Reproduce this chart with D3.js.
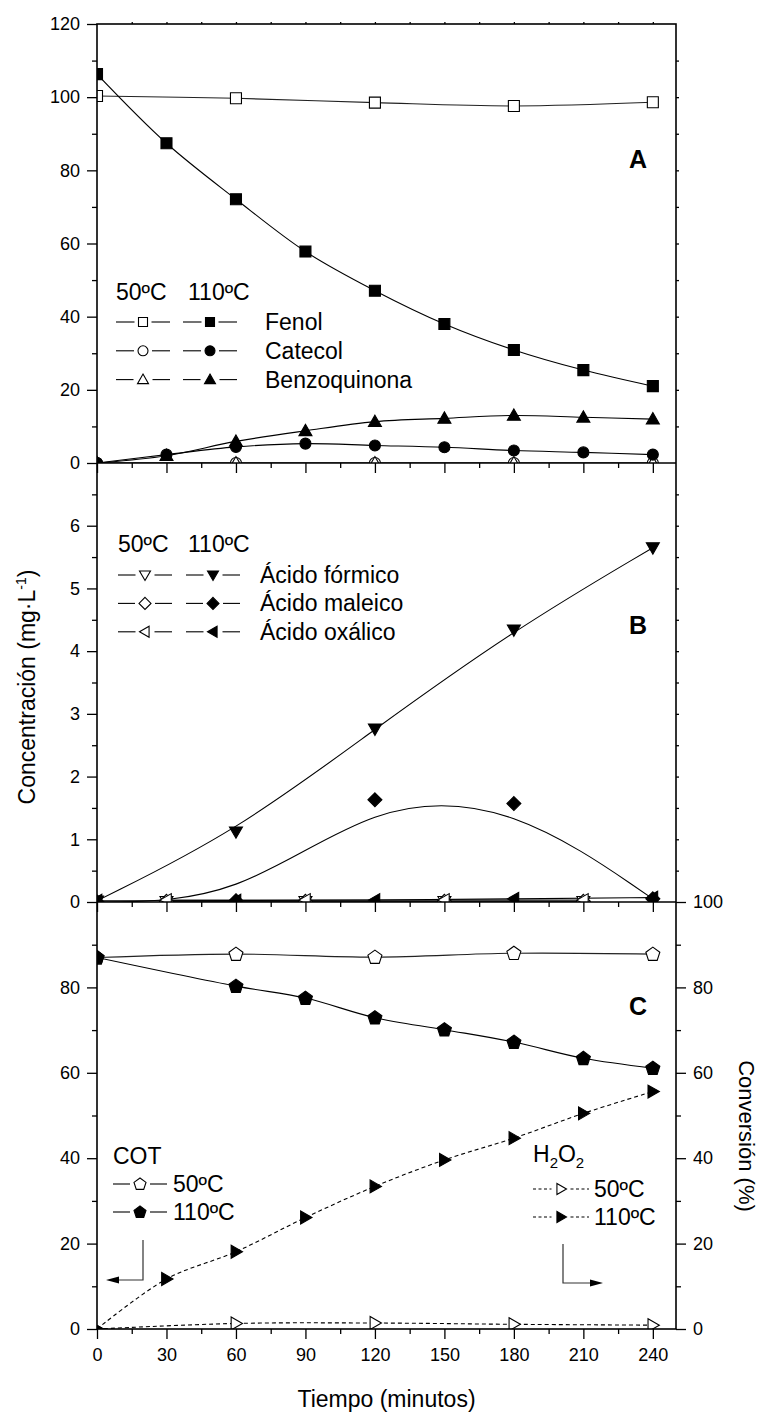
<!DOCTYPE html>
<html><head><meta charset="utf-8">
<script src="https://cdn.jsdelivr.net/npm/d3@7/dist/d3.min.js"></script>
<style>body{margin:0;background:#fff}svg{display:block}</style>
</head><body><svg id="c" width="761" height="1416"></svg>
<script>
// ---------- DATA ----------
const times = [0, 30, 60, 90, 120, 150, 180, 210, 240];
const times50 = [0, 60, 120, 180, 240];
const fenol50 = [100.3, 99.7, 98.5, 97.6, 98.6];
const fenol110 = [106.3, 87.4, 72.1, 57.8, 47.1, 38.0, 30.9, 25.4, 21.0];
const catecol50 = [0, 0, 0, 0, 0];
const catecol110 = [0, 2.3, 4.4, 5.3, 4.8, 4.3, 3.4, 2.9, 2.3];
const benzo50 = [0, 0, 0, 0, 0];
const benzo110 = [0, 2.0, 5.9, 8.8, 11.3, 12.2, 13.0, 12.5, 12.0];

const timesAcid110 = [0, 60, 120, 180, 240];
const timesAcid50 = [30, 90, 150, 210];
const formico110 = [0.02, 1.12, 2.76, 4.34, 5.65];
const maleico110 = [0, 0.02, 1.63, 1.57, 0.05];
const oxalico110 = [0.02, 0.02, 0.03, 0.05, 0.07];
const formico50 = [0.01, 0.01, 0.01, 0.01];
const maleico50 = [0.01, 0.01, 0.01, 0.01];
const oxalico50 = [0.03, 0.03, 0.03, 0.03];

const timesCOT110 = [0, 60, 90, 120, 150, 180, 210, 240];
const cot50 = [87.0, 87.8, 87.1, 88.0, 87.8];
const cot110 = [87.0, 80.3, 77.5, 72.9, 70.1, 67.2, 63.4, 61.1];
const h2o2_50 = [0, 1.3, 1.4, 1.1, 0.9];
const h2o2_110 = [0, 11.7, 18.1, 26.1, 33.4, 39.6, 44.7, 50.5, 55.6];

const xTicks = [0, 30, 60, 90, 120, 150, 180, 210, 240];
const xMinor = [15, 45, 75, 105, 135, 165, 195, 225];
const xTop = [15, 30, 45, 60, 75, 90, 105, 120, 135, 150, 165, 180, 195, 210, 225, 240];
const yTicksA = [0, 20, 40, 60, 80, 100, 120];
const yMinorA = [10, 30, 50, 70, 90, 110];
const yRightA = [10, 20, 30, 40, 50, 60, 70, 80, 90, 100, 110];
const yTicksB = [0, 1, 2, 3, 4, 5, 6];
const yMinorB = [0.5, 1.5, 2.5, 3.5, 4.5, 5.5, 6.5];
const yRightB = [0.5, 1, 1.5, 2, 2.5, 3, 3.5, 4, 4.5, 5, 5.5, 6, 6.5];
const yTicksC = [0, 20, 40, 60, 80];
const yMinorC = [10, 30, 50, 70, 90];
const yTicksCR = [0, 20, 40, 60, 80, 100];

// ---------- LAYOUT ----------
const FONT = "Arial, 'Liberation Sans', sans-serif";
const svg = d3.select("#c");
const L = 97, R = 676, TOP = 24, AB = 463, BC = 902, BOT = 1329;
const x = d3.scaleLinear().domain([0, 250]).range([L, R]);
const yA = d3.scaleLinear().domain([0, 120]).range([AB, TOP]);
const yB = d3.scaleLinear().domain([0, 7]).range([BC, AB]);
const yC = d3.scaleLinear().domain([0, 100]).range([BOT, BC]);

const defs = svg.append("defs");
function clip(id, y0, y1) {
  defs.append("clipPath").attr("id", id).append("rect")
    .attr("x", L).attr("y", y0).attr("width", R - L).attr("height", y1 - y0);
}
clip("cA", TOP, AB); clip("cB", AB, BC); clip("cC", BC, BOT);

// ---------- MARKERS ----------
function markerPath(type, s) {
  const h = s / 2;
  switch (type) {
    case "square": return `M${-h},${-h}H${h}V${h}H${-h}Z`;
    case "circle": return d3.symbol(d3.symbolCircle, Math.PI * h * h)();
    case "up": return `M0,${-0.5 * s}L${h},${0.37 * s}L${-h},${0.37 * s}Z`;
    case "down": return `M0,${0.5 * s}L${h},${-0.37 * s}L${-h},${-0.37 * s}Z`;
    case "left": return `M${-0.5 * s},0L${0.37 * s},${-h}L${0.37 * s},${h}Z`;
    case "right": return `M${0.5 * s},0L${-0.37 * s},${-h}L${-0.37 * s},${h}Z`;
    case "diamond": return `M0,${-h}L${h},0L0,${h}L${-h},0Z`;
    case "pentagon": {
      const r = s / 1.902, pts = [];
      for (let k = 0; k < 5; k++) {
        const a = -Math.PI / 2 + k * 2 * Math.PI / 5;
        pts.push([r * Math.cos(a), r * Math.sin(a) + 0.05 * r]);
      }
      return "M" + pts.map(p => p.join(",")).join("L") + "Z";
    }
  }
}
const SIZE = { square: 11, circle: 11, up: 13, down: 13, left: 13, right: 13, diamond: 14, pentagon: 14 };
const LSIZE = { square: 9, circle: 10, up: 11, down: 11, left: 11, right: 11, diamond: 12, pentagon: 12 };

const catmull = d3.curveCatmullRom.alpha(0.5);

function drawSeries(g, xs, ys, yScale, opt) {
  const pts = xs.map((t, i) => [t, ys[i]]);
  g.append("path")
    .attr("d", d3.line().x(d => x(d[0])).y(d => yScale(d[1])).curve(opt.curve || catmull)(pts))
    .attr("fill", "none").attr("stroke", opt.stroke || "#000")
    .attr("stroke-width", 1.1)
    .attr("stroke-dasharray", opt.dash || null);
}
function drawMarkers(g, xs, ys, yScale, opt) {
  xs.forEach((t, i) => {
    g.append("path")
      .attr("d", markerPath(opt.sym, SIZE[opt.sym]))
      .attr("transform", `translate(${x(t)},${yScale(ys[i])})`)
      .attr("fill", opt.open ? "#fff" : "#000")
      .attr("stroke", "#000").attr("stroke-width", 1.1);
  });
}

// ---------- PANEL A ----------
const gA = svg.append("g").attr("clip-path", "url(#cA)");
const seriesA = [
  { xs: times50, ys: fenol50, sym: "square", open: true, stroke: "#222" },
  { xs: times50, ys: catecol50, sym: "circle", open: true, stroke: "#222" },
  { xs: times50, ys: benzo50, sym: "up", open: true, stroke: "#222" },
  { xs: times, ys: fenol110, sym: "square" },
  { xs: times, ys: catecol110, sym: "circle" },
  { xs: times, ys: benzo110, sym: "up" }
];
seriesA.forEach(s => drawSeries(gA, s.xs, s.ys, yA, s));
seriesA.forEach(s => drawMarkers(gA, s.xs, s.ys, yA, s));

// ---------- PANEL B ----------
const gB = svg.append("g").attr("clip-path", "url(#cB)");
const seriesB = [
  { xs: timesAcid50, ys: formico50, sym: "down", open: true, stroke: "#222", curve: d3.curveLinear },
  { xs: timesAcid50, ys: maleico50, sym: "diamond", open: true, stroke: "#222", curve: d3.curveLinear },
  { xs: timesAcid50, ys: oxalico50, sym: "left", open: true, stroke: "#222", curve: d3.curveLinear },
  { xs: timesAcid110, ys: formico110, sym: "down", curve: d3.curveBasis },
  { xs: timesAcid110, ys: maleico110, sym: "diamond", curve: d3.curveBasis },
  { xs: timesAcid110, ys: oxalico110, sym: "left", curve: d3.curveBasis }
];
seriesB.forEach(s => drawSeries(gB, s.xs, s.ys, yB, s));
seriesB.forEach(s => drawMarkers(gB, s.xs, s.ys, yB, s));

// ---------- PANEL C ----------
const gC = svg.append("g").attr("clip-path", "url(#cC)");
const seriesC = [
  { xs: times50, ys: cot50, sym: "pentagon", open: true, stroke: "#222" },
  { xs: times50, ys: h2o2_50, sym: "right", open: true, dash: "4,3" },
  { xs: timesCOT110, ys: cot110, sym: "pentagon" },
  { xs: times, ys: h2o2_110, sym: "right", dash: "4,3" }
];
seriesC.forEach(s => drawSeries(gC, s.xs, s.ys, yC, s));
seriesC.forEach(s => drawMarkers(gC, s.xs, s.ys, yC, s));

// ---------- AXES ----------
function drawAxis(axisFn, scale, vals, size, fmt, transform, pad) {
  const a = axisFn(scale).tickValues(vals).tickSizeInner(size).tickSizeOuter(0)
    .tickPadding(pad == null ? 7 : pad).tickFormat(fmt || (() => ""));
  const g = svg.append("g").attr("transform", transform).call(a);
  g.select(".domain").remove();
  g.attr("font-family", FONT).attr("font-size", 18);
  g.selectAll("line").attr("stroke", "#000").attr("stroke-width", 1.3);
  g.selectAll("text").attr("fill", "#000");
  return g;
}
const fmtInt = d3.format("d");
drawAxis(d3.axisLeft, yA, yTicksA, 10, fmtInt, `translate(${L},0)`);
drawAxis(d3.axisLeft, yA, yMinorA, 5, null, `translate(${L},0)`);
drawAxis(d3.axisLeft, yB, yTicksB, 10, fmtInt, `translate(${L},0)`);
drawAxis(d3.axisLeft, yB, yMinorB, 5, null, `translate(${L},0)`);
drawAxis(d3.axisLeft, yC, yTicksC, 10, fmtInt, `translate(${L},0)`);
drawAxis(d3.axisLeft, yC, yMinorC, 5, null, `translate(${L},0)`);
drawAxis(d3.axisRight, yA, yRightA, 3, null, `translate(${R},0)`);
drawAxis(d3.axisRight, yB, yRightB, 3, null, `translate(${R},0)`);
drawAxis(d3.axisRight, yC, yTicksCR, 10, fmtInt, `translate(${R},0)`);
drawAxis(d3.axisRight, yC, yMinorC, 5, null, `translate(${R},0)`);
[AB, BC].forEach(yy => {
  drawAxis(d3.axisBottom, x, xTicks, 10, null, `translate(0,${yy})`);
  drawAxis(d3.axisBottom, x, xMinor, 5, null, `translate(0,${yy})`);
});
drawAxis(d3.axisBottom, x, xTicks, 10, fmtInt, `translate(0,${BOT})`, 9);
drawAxis(d3.axisBottom, x, xMinor, 5, null, `translate(0,${BOT})`);
drawAxis(d3.axisTop, x, xTop, 2, null, `translate(0,${TOP})`);

svg.append("rect").attr("x", L).attr("y", TOP).attr("width", R - L).attr("height", BOT - TOP)
  .attr("fill", "none").attr("stroke", "#000").attr("stroke-width", 1.6);
[AB, BC].forEach(yy => svg.append("line").attr("x1", L).attr("x2", R).attr("y1", yy).attr("y2", yy)
  .attr("stroke", "#000").attr("stroke-width", 1.6));

// ---------- TITLES ----------
const t1 = svg.append("text").attr("font-family", FONT).attr("font-size", 23).attr("text-anchor", "middle")
  .attr("transform", "translate(35,687) rotate(-90)");
t1.append("tspan").text("Concentración (mg·L");
t1.append("tspan").attr("font-size", 14).attr("dy", -9).text("-1");
t1.append("tspan").attr("dy", 9).text(")");

svg.append("text").attr("font-family", FONT).attr("font-size", 22).attr("text-anchor", "middle")
  .attr("transform", "translate(739,1136) rotate(90)").text("Conversión (%)");

svg.append("text").attr("font-family", FONT).attr("font-size", 23).attr("text-anchor", "middle")
  .attr("x", (L + R) / 2).attr("y", 1407).text("Tiempo (minutos)");

[["A", 168], ["B", 634], ["C", 1015]].forEach(([s, yy]) =>
  svg.append("text").attr("font-family", FONT).attr("font-size", 25).attr("font-weight", "bold")
    .attr("text-anchor", "middle").attr("x", 638).attr("y", yy).text(s));

// ---------- LEGENDS ----------
function legText(xx, yy, str, size) {
  return svg.append("text").attr("font-family", FONT).attr("font-size", size || 23)
    .attr("x", xx).attr("y", yy).text(str);
}
function legItem(x0, x1, yy, sym, open, dashed) {
  const m = (x0 + x1) / 2, gap = LSIZE[sym] / 2 + 4;
  [[x0, m - gap], [m + gap, x1]].forEach(([a, b]) =>
    svg.append("line").attr("x1", a).attr("x2", b).attr("y1", yy).attr("y2", yy)
      .attr("stroke", "#000").attr("stroke-width", 1.1)
      .attr("stroke-dasharray", dashed ? "3,2.5" : null));
  svg.append("path").attr("d", markerPath(sym, LSIZE[sym]))
    .attr("transform", `translate(${m},${yy})`)
    .attr("fill", open ? "#fff" : "#000").attr("stroke", "#000").attr("stroke-width", 1.1);
}
const legA = [["Fenol", "square"], ["Catecol", "circle"], ["Benzoquinona", "up"]];
legText(116, 300, "50\u00BAC");
legText(188, 300, "110\u00BAC");
legA.forEach(([name, sym], i) => {
  const yy = 322 + i * 28.8;
  legItem(116, 170, yy, sym, true);
  legItem(183, 237, yy, sym, false);
  legText(265, yy + 8, name);
});
const legB = [["Ácido fórmico", "down"], ["Ácido maleico", "diamond"], ["Ácido oxálico", "left"]];
legText(118, 552, "50\u00BAC");
legText(188, 552, "110\u00BAC");
legB.forEach(([name, sym], i) => {
  const yy = 575 + i * 28.4;
  legItem(118, 172, yy, sym, true);
  legItem(186, 240, yy, sym, false);
  legText(260, yy + 8, name);
});
legText(113, 1164, "COT");
[["50\u00BAC", true], ["110\u00BAC", false]].forEach(([name, open], i) => {
  const yy = 1184 + i * 28;
  legItem(113, 167, yy, "pentagon", open);
  legText(173, yy + 8, name);
});
const h = svg.append("text").attr("font-family", FONT).attr("font-size", 23).attr("x", 533).attr("y", 1162);
h.append("tspan").text("H");
h.append("tspan").attr("font-size", 15).attr("dy", 6).text("2");
h.append("tspan").attr("dy", -6).text("O");
h.append("tspan").attr("font-size", 15).attr("dy", 6).text("2");
[["50\u00BAC", true], ["110\u00BAC", false]].forEach(([name, open], i) => {
  const yy = 1189 + i * 28;
  legItem(533, 589, yy, "right", open, true);
  legText(594, yy + 8, name);
});

function arrow(pathD, tip, dir) {
  svg.append("path").attr("d", pathD).attr("fill", "none").attr("stroke", "#333").attr("stroke-width", 1.2);
  const [tx, ty] = tip;
  const b = tx - dir * 13;
  svg.append("path").attr("d", `M${tx},${ty}L${b},${ty - 3.5}L${b},${ty + 3.5}Z`).attr("fill", "#000");
}
arrow("M143,1240V1280H112", [106, 1280], -1);
arrow("M563,1244V1283H597", [603, 1283], 1);
</script></body></html>
